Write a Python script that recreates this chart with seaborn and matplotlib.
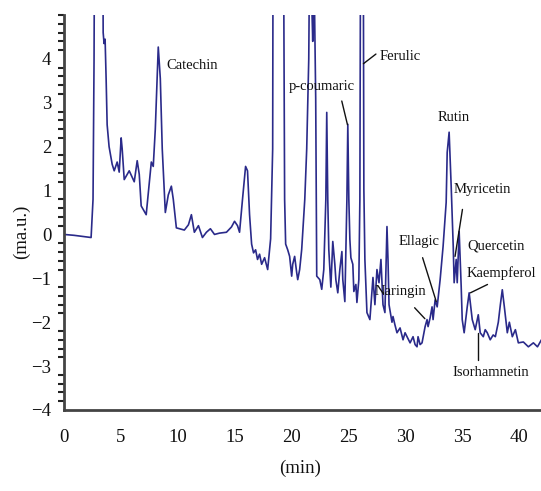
import numpy as np
import pandas as pd
import matplotlib
matplotlib.use("Agg")
import matplotlib.pyplot as plt
import seaborn as sns
from matplotlib.ticker import MultipleLocator

# retention time (min) and absorbance (ma.u.)
time = [0.0, 0.88, 1.76, 2.38, 2.55, 2.64, 2.75, 3.35, 3.44, 3.52, 3.61, 3.70, 3.79, 3.96,
        4.23, 4.41, 4.67, 4.85, 5.02, 5.11, 5.29, 5.73, 6.17, 6.43, 6.61, 6.78, 7.22, 7.67,
        7.84, 8.02, 8.28, 8.46, 8.63, 8.90, 9.16, 9.43, 9.60, 9.87, 10.57, 10.93, 11.19,
        11.45, 11.81, 12.16, 12.51, 12.86, 13.22, 13.66, 14.27, 14.71, 14.98, 15.24, 15.42,
        15.68, 15.95, 16.12, 16.30, 16.48, 16.65, 16.83, 17.00, 17.18, 17.36, 17.62, 17.89,
        18.15, 18.33, 18.40, 19.20, 19.38, 19.47, 19.65, 19.82, 20.00, 20.09, 20.26, 20.44,
        20.53, 20.70, 20.88, 21.15, 21.32, 21.50, 21.59, 21.85, 21.94, 22.11, 22.20, 22.47,
        22.64, 22.82, 23.00, 23.08, 23.17, 23.26, 23.44, 23.61, 23.79, 23.88, 24.05, 24.23,
        24.41, 24.49, 24.67, 24.85, 24.93, 25.02, 25.11, 25.20, 25.37, 25.46, 25.64, 25.73,
        25.90, 25.99, 26.08, 26.26, 26.34, 26.43, 26.61, 26.87, 27.14, 27.31, 27.49, 27.67,
        27.84, 28.02, 28.19, 28.37, 28.46, 28.55, 28.81, 28.90, 29.07, 29.25, 29.52, 29.78,
        29.96, 30.13, 30.40, 30.66, 30.84, 31.01, 31.10, 31.28, 31.45, 31.72, 31.89, 31.98,
        32.16, 32.33, 32.42, 32.60, 32.78, 33.04, 33.30, 33.57, 33.66, 33.83, 34.01, 34.19,
        34.27, 34.45, 34.54, 34.71, 34.89, 34.98, 35.15, 35.42, 35.59, 35.86, 36.12, 36.39,
        36.56, 36.83, 37.00, 37.18, 37.44, 37.70, 37.89, 38.15, 38.33, 38.50, 38.68, 38.94,
        39.12, 39.38, 39.65, 39.91, 40.35, 40.79, 41.23, 41.59, 41.94]
absorbance = [0.0, -0.02, -0.05, -0.07, 0.8, 4.0, 12.0, 12.0, 4.6, 4.35, 4.45, 3.55, 2.5, 2.0,
              1.6, 1.45, 1.65, 1.42, 2.2, 1.95, 1.25, 1.45, 1.2, 1.68, 1.37, 0.65, 0.45, 1.65,
              1.55, 2.4, 4.27, 3.55, 1.95, 0.5, 0.9, 1.1, 0.8, 0.15, 0.1, 0.22, 0.45,
              0.05, 0.2, -0.07, 0.05, 0.13, 0.0, 0.03, 0.05, 0.17, 0.3, 0.2, 0.05,
              0.8, 1.55, 1.45, 0.45, -0.22, -0.42, -0.35, -0.57, -0.45, -0.68, -0.53, -0.8,
              -0.1, 1.95, 12.0, 12.0, 0.8, -0.22, -0.35, -0.5, -0.95, -0.68, -0.5, -0.87,
              -1.03, -0.8, -0.34, 0.8, 1.95, 4.0, 7.0, 4.4, 6.5, 3.1, -0.95, -1.03,
              -1.25, -0.8, 0.8, 2.78, 0.8, -0.34, -1.2, -0.16, -0.68, -1.03, -1.33, -0.8,
              -0.39, -1.03, -1.53, 0.8, 2.51, 0.8, -0.11, -0.53, -0.68, -1.3, -1.14, -1.55,
              -1.03, 0.8, 10.0, 10.0, 1.03, -0.57, -1.78, -1.94, -0.98, -1.6, -0.8, -1.1,
              -0.57, -1.6, -1.78, 0.18, -0.57, -1.6, -2.0, -1.87, -2.06, -2.24, -2.13, -2.4,
              -2.24, -2.33, -2.47, -2.33, -2.51, -2.56, -2.33, -2.51, -2.47, -2.1, -1.94, -2.1,
              -1.9, -1.65, -1.94, -1.49, -1.65, -1.03, -0.27, 0.73, 1.87, 2.33, 1.1, -0.27,
              -1.1, -0.57, -1.1, 0.07, -1.19, -1.94, -2.24, -1.65, -1.33, -1.94, -2.17, -1.83,
              -2.24, -2.33, -2.17, -2.24, -2.4, -2.29, -2.33, -2.0, -1.6, -1.26, -1.65, -2.24,
              -2.0, -2.33, -2.17, -2.47, -2.45, -2.56, -2.47, -2.56, -2.4]

# compound labels: text, text position, pointer (start -> end) or None
compounds = ["Catechin", "p-coumaric", "Ferulic", "Rutin", "Myricetin", "Quercetin",
             "Kaempferol", "Ellagic", "Naringin", "Isorhamnetin"]
label_xy = [(9.0, 3.84), (19.7, 3.36), (27.75, 4.05), (32.8, 2.67), (34.2, 1.03),
            (35.4, -0.27), (35.4, -0.87), (29.4, -0.16), (27.3, -1.3), (34.1, -3.15)]
pointers = [None, ((24.4, 3.04), (24.9, 2.5)), ((27.4, 4.11), (26.3, 3.89)), None,
            ((35.0, 0.57), (34.35, -0.5)), None, ((37.2, -1.14), (35.7, -1.33)),
            ((31.5, -0.53), (32.7, -1.53)), ((30.8, -1.67), (31.7, -1.92)),
            ((36.4, -2.86), (36.4, -2.24))]

sns.set_theme(style="white")
plt.rcParams['font.family'] = ['Liberation Serif', 'DejaVu Serif']
plt.rcParams['axes.unicode_minus'] = True

fig = plt.figure(figsize=(5.41, 4.91), dpi=100)
ax = fig.add_axes([64 / 541, 1 - 410 / 491, 1 - 64 / 541, (410 - 15) / 491])

df = pd.DataFrame({"time": time, "abs": absorbance})
sns.lineplot(data=df, x="time", y="abs", sort=False, estimator=None, ax=ax,
             color="#2a2a8a", linewidth=1.2)

ax.set_xlim(0, 41.9)
ax.set_ylim(-4, 5)
ax.xaxis.set_major_locator(MultipleLocator(5))
ax.yaxis.set_minor_locator(MultipleLocator(0.2))
ax.set_yticks([-4, -3, -2, -1, 0, 1, 2, 3, 4])

for side in ["top", "right"]:
    ax.spines[side].set_visible(False)
for side in ["left", "bottom"]:
    ax.spines[side].set_color("#444444")
    ax.spines[side].set_linewidth(2.0)

ax.tick_params(axis="both", which="major", direction="out", length=5, width=1.5,
               color="#222222", labelsize=13.5, labelcolor="#111111")
ax.tick_params(axis="y", which="minor", direction="out", length=4, width=1.5,
               color="#222222", left=True)
ax.tick_params(axis="x", which="major", pad=9)
ax.tick_params(axis="y", which="major", pad=4)

ax.set_xlabel("(min)", fontsize=13.5, color="#111111")
ax.set_ylabel("(ma.u.)", fontsize=13.5, color="#111111")
ax.xaxis.set_label_coords(0.495, -0.125)
ax.yaxis.set_label_coords(-0.07, 0.45)

for name, (tx, ty), ptr in zip(compounds, label_xy, pointers):
    ax.text(tx, ty, name, fontsize=10.5, va="center", ha="left", color="#111111",
            clip_on=False)
    if ptr is not None:
        (x0, y0), (x1, y1) = ptr
        ax.plot([x0, x1], [y0, y1], color="#111111", linewidth=1.0)

fig.savefig("out.png", dpi=100)
